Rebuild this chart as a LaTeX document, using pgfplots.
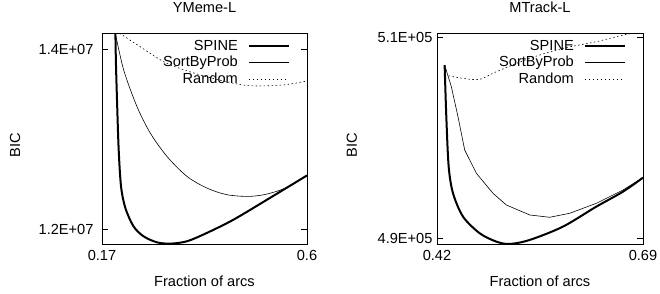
\documentclass[border=0pt]{standalone}
\usepackage{fontspec}
\setmainfont{Liberation Sans}
\usepackage{pgfplots}
\pgfplotsset{compat=1.18}
\newcommand{\ff}{\fontsize{14.6}{16}\selectfont}
\pgfplotsset{
 gp/.style={
  scale only axis, width=205pt, height=211pt,
  anchor=south west,
  tick align=inside, major tick length=6pt,
  axis line style={line width=0.8pt},
  every tick/.style={black, line width=0.8pt},
  tick label style={font=\ff},
  label style={font=\ff},
  title style={font=\ff, at={(0.5,1)}, anchor=base, yshift=15pt},
  /pgf/number format/assume math mode=true,
  scaled ticks=false,
  xticklabel style={yshift=-3pt},
  legend style={draw=none, fill=none, font=\ff, at={(1,1)}, anchor=north east, xshift=-14pt, yshift=-3pt, row sep=0.5pt, column sep=8pt, nodes={inner sep=2pt}},
  legend cell align=right, legend plot pos=right,
  legend image code/.code={\draw[##1] (0pt,0pt) -- (40pt,0pt);},
  xlabel={Fraction of arcs}, ylabel={BIC},
  xlabel style={at={(axis description cs:0.5,-0.175)}, anchor=center},
 },
 spine/.style={black, line width=2pt, smooth, tension=0.5},
 sbp/.style={black, line width=0.6pt, smooth, tension=0.5},
 rnd/.style={black, line width=0.6pt, dash pattern=on 1.5pt off 2.5pt, smooth},
}
\begin{document}
\begin{tikzpicture}
\path[use as bounding box] (0pt,0pt) rectangle (660pt,293pt);
% left
\begin{axis}[gp, at={(102pt,49pt)},
  title={YMeme-L},
  xmin=0.17, xmax=0.6, ymin=1.1833e7, ymax=1.4178e7,
  xtick={0.17,0.6}, xticklabels={0.17,0.6},
  ytick={1.2e7,1.4e7}, yticklabels={1.2E+07,1.4E+07},
  yticklabel style={xshift=-5pt},
  ylabel style={at={(axis description cs:-0.424,0.47)}, anchor=center},
]
\addplot[spine] coordinates {(0.1972,1.45e7) (0.199,1.39e7) (0.2015,1.343e7) (0.205,1.288e7) (0.210,1.247e7) (0.219,1.2233e7) (0.236,1.203e7) (0.257,1.1919e7) (0.285,1.1852e7) (0.313,1.1837e7) (0.348,1.1863e7) (0.39,1.1956e7) (0.446,1.2104e7) (0.516,1.2325e7) (0.6,1.2595e7)};
\addlegendentry{SPINE}
\addplot[sbp] coordinates {(0.197,1.42e7) (0.2155,1.3767e7) (0.2434,1.336e7) (0.2714,1.3065e7) (0.3063,1.2806e7) (0.3483,1.2584e7) (0.39,1.2455e7) (0.432,1.2381e7) (0.4776,1.2362e7) (0.516,1.2388e7) (0.558,1.2462e7) (0.6,1.2595e7)};
\addlegendentry{SortByProb}
\addplot[rnd] coordinates {(0.2,1.42e7) (0.25,1.4026e7) (0.306,1.3841e7) (0.376,1.3712e7) (0.446,1.3619e7) (0.488,1.359e7) (0.551,1.3601e7) (0.6,1.3645e7)};
\addlegendentry{Random}
\end{axis}
% right
\begin{axis}[gp, at={(437pt,49pt)}, width=206pt,
  title={MTrack-L},
  xmin=0.42, xmax=0.69, ymin=489430, ymax=510470,
  xtick={0.42,0.69}, xticklabels={0.42,0.69},
  ytick={490000,510000}, yticklabels={4.9E+05,5.1E+05},
  yticklabel style={xshift=-1pt},
  ylabel style={at={(axis description cs:-0.413,0.47)}, anchor=center},
]
\addplot[spine] coordinates {(0.430,507276) (0.4322,502126) (0.4353,497143) (0.441,494485) (0.4541,492159) (0.476,490498) (0.4978,489668) (0.5152,489435) (0.5415,489834) (0.5851,491163) (0.6288,493156) (0.6638,494651) (0.69,496047)};
\addlegendentry{SPINE}
\addplot[black, line width=0.6pt] coordinates {(0.430,507276) (0.4388,505117) (0.4475,502126) (0.4563,498804) (0.4716,496479) (0.4934,494485) (0.5108,493322) (0.5415,492326) (0.5677,492093) (0.5939,492492) (0.6288,493488) (0.6638,494817) (0.69,496047)};
\addlegendentry{SortByProb}
\addplot[rnd] coordinates {(0.430,506279) (0.4541,505947) (0.476,505847) (0.4978,506611) (0.5415,507940) (0.5851,508937) (0.6288,509601) (0.6638,510266) (0.69,510598)};
\addlegendentry{Random}
\end{axis}
\end{tikzpicture}
\end{document}
